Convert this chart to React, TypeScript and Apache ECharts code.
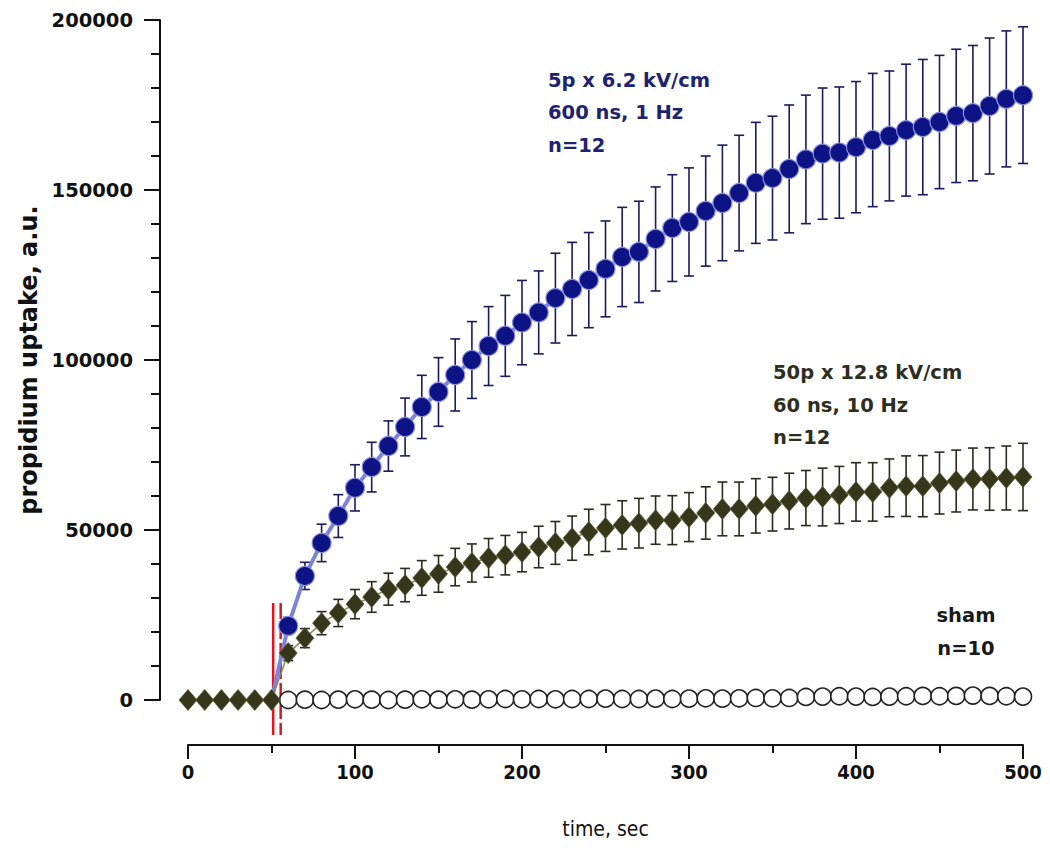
import React, { useEffect, useRef } from "react";
import * as echarts from "echarts";

// ---- data ----
const preTimes = [0, 10, 20, 30, 40, 50];
const preValues = [0, 0, 0, 0, 0, 0];
const postTimes = [60, 70, 80, 90, 100, 110, 120, 130, 140, 150, 160, 170, 180, 190, 200, 210, 220, 230, 240, 250, 260, 270, 280, 290, 300, 310, 320, 330, 340, 350, 360, 370, 380, 390, 400, 410, 420, 430, 440, 450, 460, 470, 480, 490, 500];
const blueMean = [21800, 36500, 46200, 54100, 62400, 68500, 74700, 80300, 86200, 90600, 95600, 100000, 104100, 107100, 111000, 114000, 118200, 120900, 123500, 126800, 130300, 131800, 135600, 138800, 140600, 143800, 146200, 149100, 152100, 153500, 156200, 159000, 160700, 161000, 162600, 164700, 165900, 167600, 168500, 170000, 171800, 172600, 174700, 176800, 177900];
const blueErr = [2500, 4000, 5500, 6300, 6800, 7300, 7400, 8500, 9300, 10100, 10600, 11300, 11600, 11900, 12400, 12200, 13200, 13700, 14000, 14100, 14600, 14900, 15300, 15700, 15900, 16200, 17000, 17000, 17800, 18200, 18800, 18900, 19300, 19300, 19300, 19600, 19100, 19400, 19900, 19600, 19600, 19900, 20000, 20000, 20100];
const greenMean = [13800, 18200, 22600, 25600, 28200, 30300, 32600, 33800, 35900, 37100, 39100, 40300, 41800, 42600, 43500, 45000, 46200, 47600, 49400, 50600, 51500, 52000, 52900, 52900, 53800, 55000, 56200, 56200, 57100, 57600, 58500, 59400, 59700, 60300, 61200, 61200, 62400, 62900, 62900, 63800, 64400, 65000, 65000, 65300, 65600];
const greenErr = [2200, 2800, 3400, 4000, 4300, 4500, 4700, 4900, 5100, 5400, 5500, 5600, 5700, 5800, 5800, 6100, 6300, 6500, 6700, 6900, 7100, 7300, 7100, 7200, 7200, 7700, 7900, 7900, 8000, 7900, 8200, 8100, 8500, 8400, 8600, 8600, 8500, 8900, 9000, 9100, 9100, 9100, 9200, 9400, 9900];
const shamMean = [0, 100, 0, 100, 200, 100, 0, 100, 200, 100, 200, 100, 200, 300, 200, 300, 200, 300, 300, 400, 300, 300, 400, 300, 400, 500, 400, 500, 600, 500, 600, 900, 1000, 1100, 1000, 900, 1000, 1100, 1200, 1100, 1200, 1300, 1200, 1100, 1000];
const pulseTimes = [51, 55.5];
const pulseRange = [-10300, 28500];
const xTicks = { min: 0, max: 500, interval: 100 };
const yTicks = { min: 0, max: 200000, interval: 50000 };

const blueLabel = ["5p x 6.2 kV/cm", "600 ns, 1 Hz", "n=12"];
const greenLabel = ["50p x 12.8 kV/cm", "60 ns, 10 Hz", "n=12"];
const shamLabel = ["sham", "n=10"];

const BLUE = "#0d1384";
const BLUE_TXT = "#1e2370";
const OLIVE = "#36361a";
const BOLD = "bold 19.5px 'DejaVu Sans', Verdana, sans-serif";

function errRenderer(color: string) {
  return (params: any, api: any) => {
    const x = api.value(0);
    const p1 = api.coord([x, api.value(2)]);
    const p2 = api.coord([x, api.value(1)]);
    const w = 5;
    const st = { stroke: color, lineWidth: 1.6 };
    return {
      type: "group",
      children: [
        { type: "line", shape: { x1: p1[0], y1: p1[1], x2: p2[0], y2: p2[1] }, style: st },
        { type: "line", shape: { x1: p1[0] - w, y1: p1[1], x2: p1[0] + w, y2: p1[1] }, style: st },
        { type: "line", shape: { x1: p2[0] - w, y1: p2[1], x2: p2[0] + w, y2: p2[1] }, style: st },
      ],
    };
  };
}

export default function App() {
  const ref = useRef<HTMLDivElement>(null);
  useEffect(() => {
    if (!ref.current) return;
    const chart = echarts.init(ref.current, null, { renderer: "svg" });

    const blueData: any[] = [{ value: [50, 0], symbol: "none" }].concat(
      postTimes.map((t, i) => ({ value: [t, blueMean[i]] }) as any)
    );
    const greenData = preTimes.map((t, i) => [t, preValues[i]]).concat(postTimes.map((t, i) => [t, greenMean[i]]));
    const shamData = postTimes.map((t, i) => [t, shamMean[i]]);
    const blueErrData = postTimes.map((t, i) => [t, blueMean[i] - blueErr[i], blueMean[i] + blueErr[i]]);
    const greenErrData = postTimes.map((t, i) => [t, greenMean[i] - greenErr[i], greenMean[i] + greenErr[i]]);
    const pulseData = pulseTimes.map((t) => [t, pulseRange[0], pulseRange[1]]);

    const textEls = (lines: string[], x: number, ys: number[], color: string, align = "left") =>
      lines.map((s, i) => ({
        type: "text",
        x,
        y: ys[i],
        style: { text: s, font: BOLD, fill: color, align, verticalAlign: "middle" },
      }));

    chart.setOption({
      animation: false,
      backgroundColor: "#ffffff",
      textStyle: { fontFamily: "'DejaVu Sans', Verdana, sans-serif" },
      grid: { left: 188, right: 27, top: 20, bottom: 154 },
      xAxis: {
        type: "value",
        min: xTicks.min,
        max: xTicks.max,
        interval: xTicks.interval,
        offset: 45,
        name: "time, sec",
        nameLocation: "middle",
        nameGap: 73,
        nameTextStyle: { fontSize: 21, color: "#111", fontFamily: "'DejaVu Sans Condensed', 'Liberation Sans Narrow', sans-serif" },
        axisLine: { show: true, onZero: false, lineStyle: { color: "#111", width: 2 } },
        axisTick: { show: true, inside: false, length: 14, lineStyle: { color: "#111", width: 2 } },
        minorTick: { show: true, splitNumber: 2, length: 8, lineStyle: { color: "#111", width: 2 } },
        splitLine: { show: false },
        axisLabel: {
          margin: 17,
          fontSize: 20,
          fontWeight: "bold",
          color: "#111",
          fontFamily: "'DejaVu Sans Condensed', 'Liberation Sans Narrow', sans-serif",
        },
      },
      yAxis: {
        type: "value",
        min: yTicks.min,
        max: yTicks.max,
        interval: yTicks.interval,
        offset: 28,
        name: "propidium uptake, a.u.",
        nameLocation: "middle",
        nameGap: 109,
        nameTextStyle: { fontSize: 24, fontWeight: "bold", color: "#111" },
        axisLine: { show: true, onZero: false, lineStyle: { color: "#111", width: 2 } },
        axisTick: { show: true, inside: false, length: 16, lineStyle: { color: "#111", width: 2 } },
        minorTick: { show: true, splitNumber: 5, length: 9, lineStyle: { color: "#111", width: 2 } },
        splitLine: { show: false },
        axisLabel: {
          margin: 27,
          fontSize: 19.5,
          fontWeight: "bold",
          color: "#111",
          formatter: (v: number) => String(v),
        },
      },
      graphic: [
        ...textEls(blueLabel, 548, [80, 112, 145], BLUE_TXT),
        ...textEls(greenLabel, 773, [372, 405, 437], "#2e2e1e"),
        ...textEls(shamLabel, 966, [615, 648], "#1a1a1a", "center"),
      ],
      series: [
        {
          type: "custom",
          name: "pulse",
          z: 1,
          clip: false,
          data: pulseData,
          encode: { x: 0, y: [1, 2] },
          renderItem: (params: any, api: any) => {
            const x = api.value(0);
            const p1 = api.coord([x, api.value(2)]);
            const p2 = api.coord([x, api.value(1)]);
            const dashed = params.dataIndex === 1;
            return {
              type: "line",
              shape: { x1: p1[0], y1: p1[1], x2: p2[0], y2: p2[1] },
              style: {
                stroke: dashed ? "#c81e2a" : "#e8141c",
                lineWidth: 2.5,
                lineDash: dashed ? [16, 4] : null,
              },
            };
          },
        },
        {
          type: "custom",
          name: "blueErr",
          z: 2,
          data: blueErrData,
          encode: { x: 0, y: [1, 2] },
          renderItem: errRenderer("#1b1b5e"),
        },
        {
          type: "custom",
          name: "greenErr",
          z: 2,
          data: greenErrData,
          encode: { x: 0, y: [1, 2] },
          renderItem: errRenderer("#2b2b1b"),
        },
        {
          type: "line",
          name: "sham",
          z: 3,
          data: shamData,
          symbol: "circle",
          symbolSize: 17,
          showAllSymbol: true,
          lineStyle: { width: 0 },
          itemStyle: { color: "#ffffff", borderColor: "#222", borderWidth: 1.6 },
        },
        {
          type: "line",
          name: "blue",
          z: 3,
          data: blueData,
          symbol: "circle",
          symbolSize: 19,
          showAllSymbol: true,
          lineStyle: { color: "#7c84d8", width: 4 },
          itemStyle: { color: BLUE, borderColor: "#8a90dc", borderWidth: 1.2 },
        },
        {
          type: "line",
          name: "green",
          z: 4,
          data: greenData,
          symbol: "diamond",
          symbolSize: [18, 21],
          showAllSymbol: true,
          lineStyle: { color: "#8a8a60", width: 1.5 },
          itemStyle: { color: OLIVE, borderColor: "#5a5a38", borderWidth: 0.8 },
        },
      ],
    });
    return () => chart.dispose();
  }, []);
  return (
    <div
      ref={ref}
      style={{ position: "absolute", left: 0, top: 0, width: 1050, height: 854, background: "#fff" }}
    />
  );
}
